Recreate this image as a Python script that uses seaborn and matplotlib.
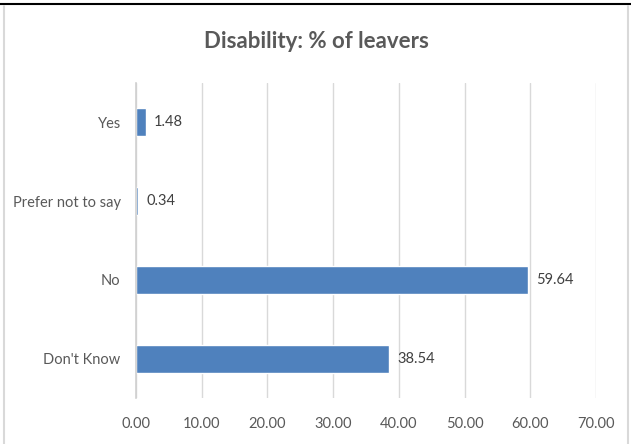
import matplotlib
matplotlib.use("Agg")
import matplotlib.pyplot as plt
from matplotlib.lines import Line2D
import seaborn as sns
import pandas as pd

categories = ["Yes", "Prefer not to say", "No", "Don't Know"]
values = [1.48, 0.34, 59.64, 38.54]
x_ticks = [0, 10, 20, 30, 40, 50, 60, 70]
title = "Disability: % of leavers"

sns.set_theme(style="white")
plt.rcParams["font.family"] = ["Lato", "DejaVu Sans"]

W, H = 631, 444
fig = plt.figure(figsize=(W / 100, H / 100), dpi=100)
ax = fig.add_axes([136 / W, 1 - 398 / H, (596 - 136) / W, (398 - 83) / H])

df = pd.DataFrame({"category": categories, "value": values})
sns.barplot(data=df, x="value", y="category", order=categories, orient="h",
            color="#4F81BD", saturation=1, width=0.355, ax=ax)

ax.set_xlim(0, 70)
ax.set_ylim(3.5, -0.5)
ax.set_xticks(x_ticks)
ax.set_xticklabels([f"{t:.2f}" for t in x_ticks])
ax.set_xlabel("")
ax.set_ylabel("")
ax.xaxis.grid(True, color="#D9D9D9", linewidth=1)
ax.set_axisbelow(True)
for side in ("top", "right", "bottom"):
    ax.spines[side].set_visible(False)
ax.spines["left"].set_color("#D0D0D0")
ax.spines["left"].set_linewidth(1.2)
ax.tick_params(axis="both", length=0, labelsize=10.5, labelcolor="#595959")
ax.tick_params(axis="x", pad=14)
ax.tick_params(axis="y", pad=11)

for i, v in enumerate(values):
    ax.annotate(f"{v:.2f}", xy=(v, i), xytext=(6, 0), textcoords="offset points",
                va="center", ha="left", fontsize=10.5, color="#404040")

fig.text(316 / W, 1 - 42 / H, title, ha="center", va="center",
         fontsize=16, fontweight="bold", color="#595959")

# outer frame of the chart area
fig.add_artist(Line2D([0, 1], [1 - 4.5 / H, 1 - 4.5 / H], color="black", linewidth=1.5))
fig.add_artist(Line2D([3.5 / W, 3.5 / W], [0, 1 - 6 / H], color="#D9D9D9", linewidth=1.5))
fig.add_artist(Line2D([627.5 / W, 627.5 / W], [0, 1 - 6 / H], color="#D9D9D9", linewidth=1.5))

fig.savefig("out.png", dpi=100)
